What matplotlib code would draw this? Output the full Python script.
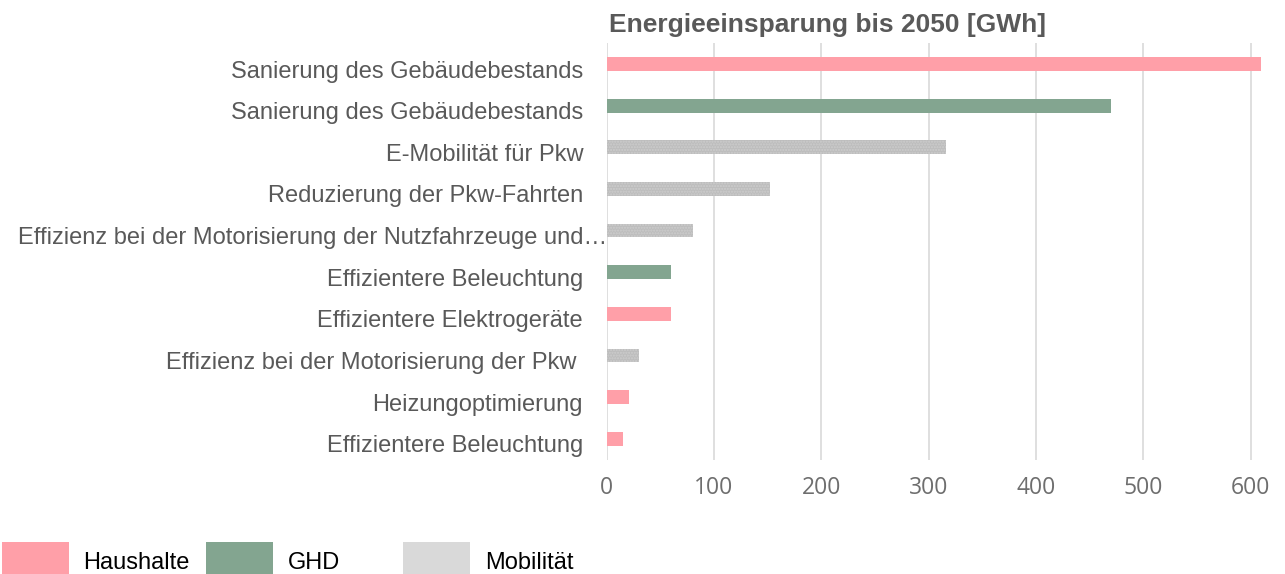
import matplotlib
matplotlib.use("Agg")
import matplotlib.pyplot as plt
from matplotlib.patches import Rectangle
from matplotlib.transforms import ScaledTranslation

# ---- data (top to bottom) ----
categories = [
    "Sanierung des Gebäudebestands",
    "Sanierung des Gebäudebestands",
    "E-Mobilität für Pkw",
    "Reduzierung der Pkw-Fahrten",
    "Effizienz bei der Motorisierung der Nutzfahrzeuge und…",
    "Effizientere Beleuchtung",
    "Effizientere Elektrogeräte",
    "Effizienz bei der Motorisierung der Pkw ",
    "Heizungoptimierung",
    "Effizientere Beleuchtung",
]
values = [610, 470, 316, 152, 80, 60, 60, 30, 21, 15]
sectors = ["Haushalte", "GHD", "Mobilität", "Mobilität", "Mobilität",
           "GHD", "Haushalte", "Mobilität", "Haushalte", "Haushalte"]
x_ticks = [0, 100, 200, 300, 400, 500, 600]
title = "Energieeinsparung bis 2050 [GWh]"
legend_labels = ["Haushalte", "GHD", "Mobilität"]

bar_colors = {"Haushalte": "#FF9FA8", "GHD": "#83A590", "Mobilität": "#BDBDBD"}
legend_colors = {"Haushalte": "#FF9FA8", "GHD": "#83A590", "Mobilität": "#D9D9D9"}

W, H = 1285, 574
fig = plt.figure(figsize=(W / 100, H / 100), dpi=100)
ax = fig.add_axes([606.7 / W, (H - 459.5) / H, (1266.8 - 606.7) / W, (459.5 - 43.2) / H])

ypos = list(range(len(categories)))
for y, v, s in zip(ypos, values, sectors):
    if s == "Mobilität":
        ax.barh(y, v, height=0.33, color=bar_colors[s], edgecolor="#CDCDCD",
                linewidth=0, hatch="......", zorder=3)
    else:
        ax.barh(y, v, height=0.33, color=bar_colors[s], linewidth=0, zorder=3)

ax.set_xlim(0, 615)
ax.set_ylim(len(categories) - 0.5, -0.5)
ax.set_xticks(x_ticks)
ax.set_xticklabels([str(t) for t in x_ticks], fontsize=16.5, color="#6E6E6E",
                   family=["Open Sans", "DejaVu Sans"])
ax.set_yticks(ypos)
ax.set_yticklabels(categories, fontsize=17, color="#595959",
                   family=["Liberation Sans", "DejaVu Sans"])
ax.tick_params(axis="y", length=0, pad=17)
ax.tick_params(axis="x", length=0, pad=12)
ax.grid(axis="x", color="#D9D9D9", linewidth=1.2, zorder=0)
ax.set_axisbelow(True)
for sp in ax.spines.values():
    sp.set_visible(False)

# labels sit slightly below bar centres in the reference;
# the long truncated label extends past the plot edge
for i, lbl in enumerate(ax.get_yticklabels()):
    dx = 24 / 100 if i == 4 else 0
    lbl.set_transform(lbl.get_transform() + ScaledTranslation(dx, -5 / 100, fig.dpi_scale_trans))

fig.text(827.5 / W, (H - 32) / H, title, ha="center", va="baseline",
         fontsize=19, fontweight="bold", color="#595959",
         family=["Liberation Sans", "DejaVu Sans"])

# legend drawn manually at bottom
box_x = [2, 206, 403]
text_x = [83, 288, 485]
for lab, bx, tx in zip(legend_labels, box_x, text_x):
    fig.patches.append(Rectangle((bx / W, 0), 67 / W, (H - 542) / H,
                                 transform=fig.transFigure,
                                 facecolor=legend_colors[lab], edgecolor="none"))
    fig.text(tx / W, (H - 569) / H, lab, ha="left", va="baseline", fontsize=17,
             color="black", family=["Liberation Sans", "DejaVu Sans"])

fig.savefig("out.png", dpi=100)
